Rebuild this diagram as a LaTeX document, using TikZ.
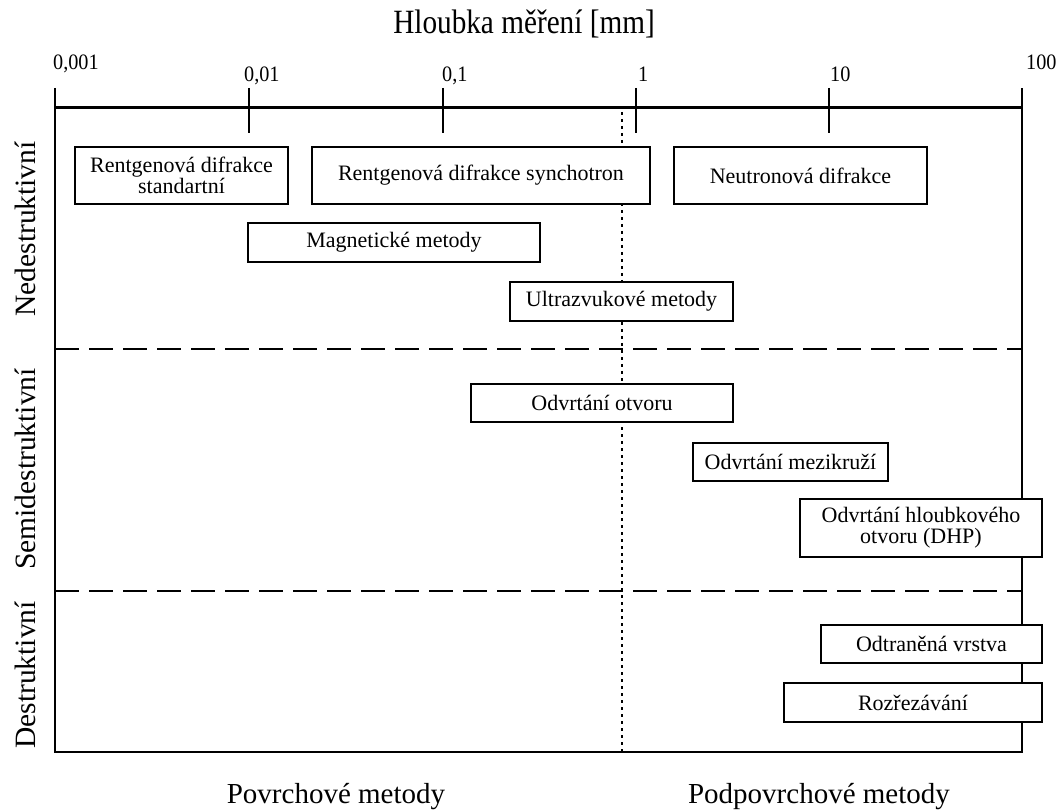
\documentclass[tikz,border=0pt]{standalone}
\usepackage{fontspec}
\setmainfont{Liberation Serif}
\begin{document}
\begin{tikzpicture}[x=1pt,y=-1pt,
  box/.style={draw,line width=1.8pt,fill=white,inner sep=0pt,align=center,
    font=\fontsize{22}{21}\selectfont},
  ticklab/.style={anchor=base west,inner sep=0pt,xscale=0.92,font=\fontsize{22}{22}\selectfont},
  sidelab/.style={rotate=90,inner sep=0pt,font=\fontsize{29.5}{29.5}\selectfont},
  botlab/.style={anchor=base,inner sep=0pt,font=\fontsize{29}{29}\selectfont},
  frameline/.style={line width=1.8pt},
  sepline/.style={line width=2.4pt,dash pattern=on 24pt off 10pt},
  midline/.style={line width=1.4pt,dash pattern=on 3pt off 4pt}]
\useasboundingbox (0,0) rectangle (1063,810);
% title
\node[anchor=base,inner sep=0pt,xscale=0.86,font=\fontsize{34}{34}\selectfont] (title) at (524,34) {Hloubka měření [mm]};
% frame
\coordinate (tl) at (55,88);
\coordinate (tr) at (1022,88);
\coordinate (bl) at (55,752);
\coordinate (br) at (1022,752);
\coordinate (al) at (55,108);
\coordinate (ar) at (1022,108);
\draw[frameline] (tl) -- (bl) -- (br) -- (tr);
\draw[line width=3pt] (al) -- (ar);
% ticks
\foreach \x/\n in {249/t2,443/t3,636/t4,829/t5}{
  \coordinate (\n a) at (\x,88);
  \coordinate (\n b) at (\x,133);
  \draw[frameline] (\n a) -- (\n b);
}
% tick labels
\node[ticklab] (l1) at (53,70) {0,001};
\node[ticklab] (l2) at (244,82) {0,01};
\node[ticklab] (l3) at (442,82) {0,1};
\node[ticklab] (l4) at (638,82) {1};
\node[ticklab] (l5) at (830,82) {10};
\node[ticklab] (l6) at (1026,70) {100};
% separators
\coordinate (s1l) at (55,349); \coordinate (s1r) at (1022,349);
\coordinate (s2l) at (55,591); \coordinate (s2r) at (1022,591);
\draw[sepline] (s1l) -- (s1r);
\draw[sepline] (s2l) -- (s2r);
% middle dotted
\coordinate (mt) at (622,112); \coordinate (mb) at (622,752);
\draw[midline] (mt) -- (mb);
% boxes
\node[box,minimum width=213pt,minimum height=57pt] (rds) at (181.5,175.5) {Rentgenová difrakce\\standartní};
\node[box,minimum width=338pt,minimum height=57pt] (rsy) at (481,175.5) {Rentgenová difrakce synchotron};
\node[box,minimum width=253pt,minimum height=57pt] (nd) at (800.5,175.5) {Neutronová difrakce};
\node[box,minimum width=292pt,minimum height=39pt] (mm) at (394,242.5) {Magnetické metody};
\node[box,minimum width=223pt,minimum height=39pt] (um) at (621.5,301.5) {Ultrazvukové metody};
\node[box,minimum width=262pt,minimum height=38pt] (oo) at (602,403) {Odvrtání otvoru};
\node[box,minimum width=195pt,minimum height=38pt] (om) at (790.5,462) {Odvrtání mezikruží};
\node[box,minimum width=242pt,minimum height=58pt] (dhp) at (921,528) {Odvrtání hloubkového\\otvoru (DHP)};
\node[box,minimum width=221pt,minimum height=38pt] (ov) at (931.5,644) {Odtraněná vrstva};
\node[box,minimum width=258pt,minimum height=39pt] (rz) at (913,702.5) {Rozřezávání};
% side labels
\node[sidelab] (nede) at (25,229) {Nedestruktivní};
\node[sidelab] (semi) at (25,469) {Semidestruktivní};
\node[sidelab] (dest) at (25,675) {Destruktivní};
% bottom labels
\node[botlab] (pov) at (336,803) {Povrchové metody};
\node[botlab] (podp) at (819,803) {Podpovrchové metody};
\end{tikzpicture}
\end{document}
